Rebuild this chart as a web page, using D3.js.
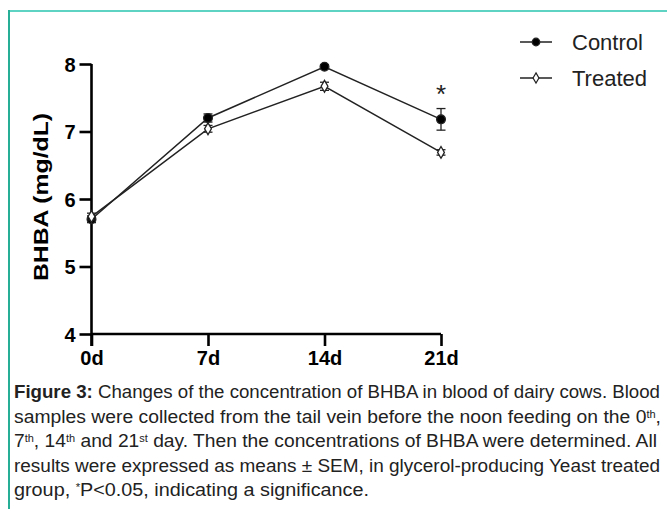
<!DOCTYPE html>
<html lang="en">
<head>
<meta charset="UTF-8">
<title>BHBA chart</title>
<script src="https://d3js.org/d3.v7.min.js"></script>
<style>
  body { margin: 0; background: #fff; }
  svg text { font-family: "Liberation Sans", Arial, sans-serif; }
</style>
</head>
<body>
<div id="chart"></div>
<script>
// data
const days = ["0d", "7d", "14d", "21d"];
const yTicks = [4, 5, 6, 7, 8];
const controlMean = [5.70, 7.20, 7.96, 7.18];
const controlSem = [0.05, 0.06, 0.03, 0.16];
const treatedMean = [5.74, 7.04, 7.67, 6.69];
const treatedSem = [0.05, 0.05, 0.06, 0.04];
const signif = ["", "", "", "*"];
const captionLines = [
  [["Figure 3:", "b"], [" Changes of the concentration of BHBA in blood of dairy cows. Blood", ""]],
  [["samples were collected from the tail vein before the noon feeding on the 0", ""], ["th", "sup"], [",", ""]],
  [["7", ""], ["th", "sup"], [", 14", ""], ["th", "sup"], [" and 21", ""], ["st", "sup"], [" day. Then the concentrations of BHBA were determined. All", ""]],
  [["results were expressed as means \u00b1 SEM, in glycerol-producing Yeast treated", ""]],
  [["group, ", ""], ["*", "sup"], ["P<0.05, indicating a significance.", ""]]
];
const captionWidths = [646, 647, 643, 646, 355];

const W = 667, H = 509;
const svg = d3.select("#chart").append("svg")
  .attr("width", W).attr("height", H);

// teal frame
svg.append("line").attr("x1", 8).attr("x2", W).attr("y1", 11).attr("y2", 11)
  .attr("stroke", "#5fd3c3").attr("stroke-width", 2);
svg.append("line").attr("x1", 9).attr("x2", 9).attr("y1", 10).attr("y2", H)
  .attr("stroke", "#27ae96").attr("stroke-width", 2);

const x = d3.scalePoint().domain(days).range([91.5, 441]);
const y = d3.scaleLinear().domain([4, 8]).range([334, 64]);

// y axis
const yAxis = svg.append("g")
  .attr("transform", "translate(91.5,0)")
  .call(d3.axisLeft(y).tickValues(yTicks).tickSize(12).tickPadding(4).tickFormat(d3.format("d")));
yAxis.select(".domain").attr("d", "M0,64V346");
yAxis.selectAll("path, line").attr("stroke", "#000").attr("stroke-width", 2.6);
yAxis.selectAll("text").attr("font-size", 20).attr("font-weight", "bold").attr("fill", "#000")
  .attr("dy", "0.36em");

// x axis
const xAxis = svg.append("g")
  .attr("transform", "translate(0,334)")
  .call(d3.axisBottom(x).tickSize(12).tickPadding(5));
xAxis.select(".domain").attr("d", "M91.5,0H441");
xAxis.selectAll("path, line").attr("stroke", "#000").attr("stroke-width", 2.6);
xAxis.selectAll("text").attr("font-size", 20).attr("font-weight", "bold").attr("fill", "#000");

// y label
svg.append("text")
  .attr("transform", "translate(48,197) rotate(-90)")
  .attr("text-anchor", "middle")
  .attr("font-size", 21).attr("font-weight", "bold")
  .attr("textLength", 168).attr("lengthAdjust", "spacingAndGlyphs")
  .text("BHBA (mg/dL)");

const series = [
  { name: "Control", mean: controlMean, sem: controlSem, filled: true },
  { name: "Treated", mean: treatedMean, sem: treatedSem, filled: false }
];

const line = d3.line().x((d, i) => x(days[i])).y(d => y(d));

series.forEach(s => {
  svg.append("path").datum(s.mean)
    .attr("fill", "none").attr("stroke", "#222").attr("stroke-width", 1.5)
    .attr("d", line);

  // error bars
  s.mean.forEach((m, i) => {
    const cx = x(days[i]);
    const g = svg.append("g").attr("stroke", "#222").attr("stroke-width", 1.3);
    g.append("line").attr("x1", cx).attr("x2", cx).attr("y1", y(m - s.sem[i])).attr("y2", y(m + s.sem[i]));
    [m - s.sem[i], m + s.sem[i]].forEach(v => {
      g.append("line").attr("x1", cx - 4.5).attr("x2", cx + 4.5).attr("y1", y(v)).attr("y2", y(v));
    });
  });

  svg.selectAll(null).data(s.mean).join("path")
    .attr("transform", (d, i) => `translate(${x(days[i])},${y(d)})`)
    .attr("d", s.filled ? d3.symbol(d3.symbolCircle, 60)() : d3.symbol(d3.symbolDiamond, 40)())
    .attr("fill", s.filled ? "#000" : "#fff")
    .attr("stroke", "#222").attr("stroke-width", 1.3);
});

// significance marks
svg.selectAll(null).data(signif).join("text")
  .attr("x", (d, i) => x(days[i]))
  .attr("y", (d, i) => y(controlMean[i] + controlSem[i]) - 6)
  .attr("text-anchor", "middle")
  .attr("font-size", 26)
  .attr("fill", "#222")
  .text(d => d);

// legend
series.forEach((s, i) => {
  const ly = 42 + i * 36;
  svg.append("line").attr("x1", 520).attr("x2", 552).attr("y1", ly).attr("y2", ly)
    .attr("stroke", "#222").attr("stroke-width", 1.5);
  svg.append("path")
    .attr("transform", `translate(536,${ly})`)
    .attr("d", s.filled ? d3.symbol(d3.symbolCircle, 45)() : d3.symbol(d3.symbolDiamond, 30)())
    .attr("fill", s.filled ? "#000" : "#fff")
    .attr("stroke", "#222").attr("stroke-width", 1.2);
  svg.append("text").attr("x", 572).attr("y", ly).attr("dy", "0.36em")
    .attr("font-size", 22).attr("fill", "#222").text(s.name);
});

// caption
captionLines.forEach((parts, i) => {
  const t = svg.append("text")
    .attr("x", 14).attr("y", 398 + i * 24.6)
    .attr("font-size", 17.5).attr("fill", "#222")
    .attr("textLength", captionWidths[i]).attr("lengthAdjust", "spacingAndGlyphs");
  parts.forEach(([txt, kind]) => {
    const ts = t.append("tspan").text(txt);
    if (kind === "b") ts.attr("font-weight", "bold");
    if (kind === "sup") ts.attr("font-size", 10).attr("baseline-shift", "super");
  });
});
</script>
</body>
</html>
